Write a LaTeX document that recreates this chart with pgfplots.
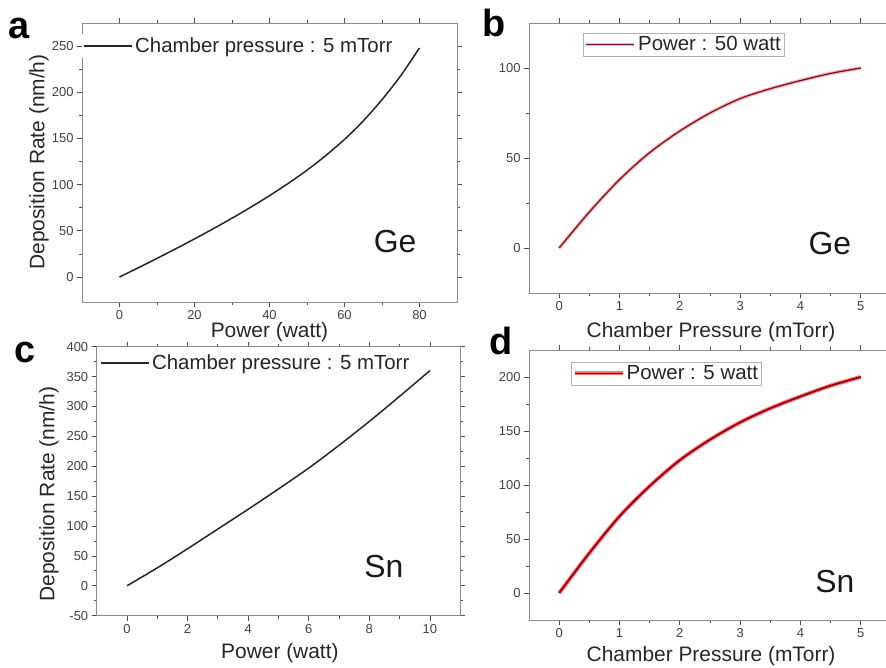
\documentclass[border=0pt]{standalone}
\usepackage{fontspec}
\setmainfont{Liberation Sans}
\usepackage{pgfplots}
\pgfplotsset{compat=1.18}
\definecolor{darkred}{RGB}{120,20,35}
\definecolor{deepred}{RGB}{150,0,20}
\pgfplotsset{
  panel/.style={
    scale only axis,
    anchor=south west,
    axis line style={black!45, line width=0.7bp},
    every tick/.style={black!70, line width=0.8bp},
    major tick length=5bp, minor tick length=3bp,
    tick align=outside,
    xtick pos=both, ytick pos=both,
    tick label style={font=\fontsize{13}{15}\selectfont, text=black!75},
    /pgf/number format/assume math mode=true,
    label style={font=\fontsize{21}{25}\selectfont, text=black!85},
    minor x tick num=1, minor y tick num=1,
    legend style={font=\fontsize{20.5}{24}\selectfont, anchor=west, inner sep=1.5bp, fill=white, draw=none, text=black!85},
    legend cell align=left,
    legend image code/.code={\draw[##1] (0bp,0bp) -- (48bp,0bp);},
  }
}
\begin{document}
\begin{tikzpicture}
\useasboundingbox (0,0) rectangle (886bp,668bp);
% panel c
\begin{axis}[panel, at={(96.7bp,52.3bp)}, width=363.5bp, height=269bp,
  xmin=-1, xmax=11, ymin=-50, ymax=400,
  xtick={0,2,...,10}, ytick={-50,0,...,400},
  xlabel={Power (watt)}, ylabel={Deposition Rate (nm/h)},
  xlabel style={at={(axis description cs:0.504,-0.139)}, anchor=center},
  ylabel style={at={(axis description cs:-0.131,0.452)}, anchor=center},
  legend style={at={(rel axis cs:0.006,0.939)}}]
\addplot[black!85, line width=1.5bp, smooth] table {
x y
0 0
1 30
2 62
3 95
4 128
5 162
6 197
7 235
8 275
9 317
10 360
};
\addlegendentry{Chamber pressure : 5 mTorr}
\node[font=\fontsize{32}{34}\selectfont, text=black!90] at (rel axis cs:0.79,0.181) {Sn};
\end{axis}
% panel a
\begin{axis}[panel, at={(82bp,366bp)}, width=375bp, height=279bp,
  xmin=-10, xmax=90, ymin=-27, ymax=275,
  xtick={0,20,...,80}, ytick={0,50,...,250},
  xlabel={Power (watt)}, ylabel={Deposition Rate (nm/h)},
  xlabel style={at={(axis description cs:0.5,-0.108)}, anchor=center},
  ylabel style={at={(axis description cs:-0.115,0.502)}, anchor=center},
  legend style={at={(rel axis cs:0.0,0.918)}}]
\addplot[black!85, line width=1.5bp, smooth] table {
x y
0 0
5 10
10 20.2
15 30.6
20 41.3
25 52.3
30 63.7
35 75.6
40 88.1
45 101.4
50 115.7
55 131.5
60 149
65 169
70 192
75 218
80 248
};
\addlegendentry{Chamber pressure : 5 mTorr}
\node[font=\fontsize{32}{34}\selectfont, text=black!90] at (rel axis cs:0.835,0.215) {Ge};
\end{axis}
% panel b
\begin{axis}[panel, at={(529bp,375bp)}, width=362bp, height=270bp,
  xmin=-0.5, xmax=5.5, ymin=-25, ymax=125,
  xtick={0,1,...,5}, ytick={0,50,100},
  xlabel={Chamber Pressure (mTorr)},
  xlabel style={at={(axis description cs:0.503,-0.144)}, anchor=center},
  legend style={at={(rel axis cs:0.149,0.92)}, draw=black!30}]
\addplot[darkred, line width=1.3bp, smooth, preaction={draw=red!30, line width=3.5bp}] table {
x y
0 0
0.5 20
1 38
1.5 53
2 65
2.5 75
3 83
3.5 88.5
4 93
4.5 97
5 100
};
\addlegendentry{Power : 50 watt}
\node[font=\fontsize{32}{34}\selectfont, text=black!90] at (rel axis cs:0.831,0.185) {Ge};
\end{axis}
% panel d
\begin{axis}[panel, at={(529bp,48bp)}, width=362bp, height=270bp,
  xmin=-0.5, xmax=5.5, ymin=-25, ymax=225,
  xtick={0,1,...,5}, ytick={0,50,...,200},
  xlabel={Chamber Pressure (mTorr)},
  xlabel style={at={(axis description cs:0.503,-0.133)}, anchor=center},
  legend style={at={(rel axis cs:0.116,0.913)}, draw=black!30}]
\addplot[deepred, line width=1.8bp, smooth, preaction={draw=red!55, line width=4bp}] table {
x y
0 0
0.5 37
1 71
1.5 99
2 123
2.5 142
3 158
3.5 171
4 182
4.5 192
5 200
};
\addlegendentry{Power : 5 watt}
\node[font=\fontsize{32}{34}\selectfont, text=black!90] at (rel axis cs:0.845,0.144) {Sn};
\end{axis}
% panel letters
\node[font=\fontsize{38}{40}\selectfont\bfseries] at (19bp,639bp) {a};
\node[font=\fontsize{38}{40}\selectfont\bfseries] at (494.5bp,645.5bp) {b};
\node[font=\fontsize{38}{40}\selectfont\bfseries] at (25bp,315.5bp) {c};
\node[font=\fontsize{38}{40}\selectfont\bfseries] at (501.5bp,327bp) {d};
\end{tikzpicture}
\end{document}
